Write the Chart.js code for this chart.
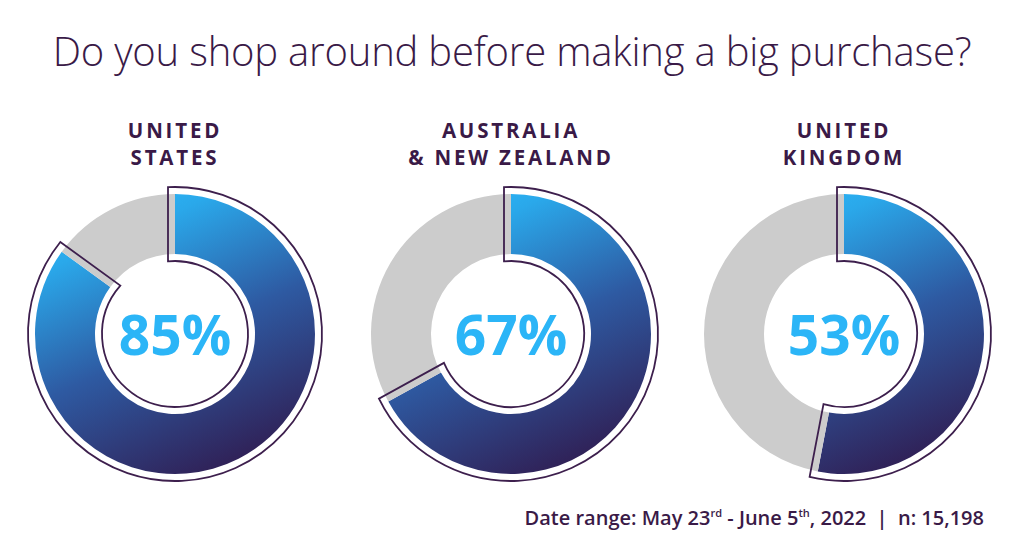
<!DOCTYPE html>
<html>
<head>
<meta charset="utf-8">
<script src="https://cdn.jsdelivr.net/npm/chart.js@4/dist/chart.umd.min.js"></script>
<style>
  html, body { margin: 0; padding: 0; background: #fff; }
  body { width: 1024px; height: 553px; position: relative; overflow: hidden; font-family: "Open Sans", sans-serif; color: #3a1a47; }
  .title { position: absolute; left: 0; width: 1024px; top: 23px; text-align: center; font-size: 40px; font-weight: 300; letter-spacing: -0.2px; }
  .label { position: absolute; width: 300px; top: 117px; text-align: center; font-size: 20.5px; font-weight: 700; letter-spacing: 2.8px; line-height: 27px; }
  .panel { position: absolute; width: 320px; height: 320px; top: 174px; }
  .center { position: absolute; left: 0; top: 0; width: 320px; height: 320px; line-height: 320px; text-align: center; font-size: 55px; font-weight: 700; color: #2bb5f7; pointer-events: none; }
  .footer { position: absolute; right: 40px; top: 504px; font-size: 20px; font-weight: 600; }
  .footer sup { font-size: 11px; vertical-align: 8px; line-height: 0; }
</style>
</head>
<body>
<div class="title">Do you shop around before making a big purchase?</div>
<div id="root"></div>
<div class="footer">Date range: May 23<sup>rd</sup> - June 5<sup>th</sup>, 2022 &nbsp;|&nbsp; n: 15,198</div>

<script>
// ===== DATA =====
const regions = [['UNITED', 'STATES'], ['AUSTRALIA', '& NEW ZEALAND'], ['UNITED', 'KINGDOM']];
const yesShare = [85, 67, 53];
const centersX = [175, 511, 844];

// ===== STYLE =====
const LIGHT = '#2bb5f7';
const DARK = '#301a4e';
const GREY = '#cccccc';
const OUTLINE = '#3d1f4d';
const GAP = 7;

// outline drawn around the first arc, offset outward by GAP
const outlinePlugin = {
  id: 'arcOutline',
  afterDatasetsDraw(chart) {
    const arc = chart.getDatasetMeta(0).data[0];
    if (!arc) return;
    const { x, y, startAngle, endAngle, innerRadius, outerRadius } = arc.getProps(['x', 'y', 'startAngle', 'endAngle', 'innerRadius', 'outerRadius'], true);
    const R = outerRadius + GAP;
    const r = innerRadius - GAP;
    const dO = Math.asin(GAP / R);
    const dI = Math.asin(GAP / r);
    const ctx = chart.ctx;
    ctx.save();
    ctx.beginPath();
    ctx.arc(x, y, R, startAngle - dO, endAngle + dO);
    ctx.arc(x, y, r, endAngle + dI, startAngle - dI, true);
    ctx.closePath();
    ctx.lineWidth = 1.8;
    ctx.strokeStyle = OUTLINE;
    ctx.stroke();
    ctx.restore();
  }
};

function segmentFill(context) {
  if (context.dataIndex !== 0) return GREY;
  const { chart } = context;
  const a = chart.chartArea;
  if (!a) return LIGHT;
  const cx = (a.left + a.right) / 2, cy = (a.top + a.bottom) / 2, rr = (a.right - a.left) / 2;
  const g = chart.ctx.createLinearGradient(cx - 0.35 * rr, cy - rr, cx + 0.55 * rr, cy + rr);
  g.addColorStop(0, LIGHT);
  g.addColorStop(0.12, '#2aa8ea');
  g.addColorStop(0.5, '#2e5aa2');
  g.addColorStop(1, DARK);
  return g;
}

const root = document.getElementById('root');
yesShare.forEach((v, i) => {
  const lab = document.createElement('div');
  lab.className = 'label';
  lab.style.left = (centersX[i] - 150) + 'px';
  lab.innerHTML = regions[i].join('<br>');
  root.appendChild(lab);

  const panel = document.createElement('div');
  panel.className = 'panel';
  panel.style.left = (centersX[i] - 160) + 'px';
  panel.innerHTML = `<canvas width="320" height="320"></canvas><div class="center">${v}%</div>`;
  root.appendChild(panel);

  new Chart(panel.querySelector('canvas'), {
    type: 'doughnut',
    data: {
      labels: ['Yes', 'No'],
      datasets: [{
        data: [v, 100 - v],
        backgroundColor: segmentFill,
        borderWidth: 0,
        hoverOffset: 0
      }]
    },
    options: {
      responsive: false,
      animation: false,
      cutout: 80,
      layout: { padding: 20 },
      plugins: { legend: { display: false }, tooltip: { enabled: false } },
      events: []
    },
    plugins: [outlinePlugin]
  });
});
</script>
</body>
</html>
